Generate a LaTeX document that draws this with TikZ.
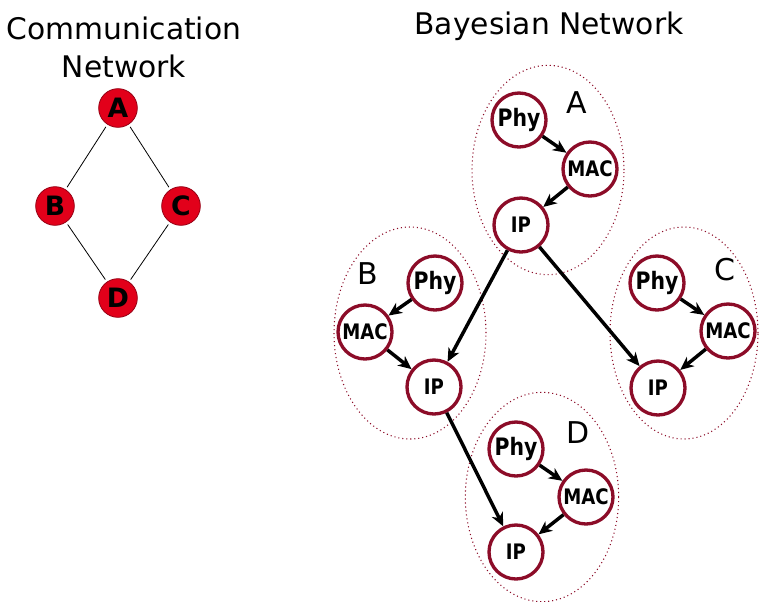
\documentclass[tikz,border=0pt]{standalone}
\usepackage{fontspec}
\setmainfont{DejaVu Sans}
\newfontfamily\bnfont[FakeStretch=0.85]{DejaVu Sans}
\usetikzlibrary{arrows.meta,shapes.geometric}
\definecolor{bnred}{RGB}{140,12,40}
\definecolor{cnred}{RGB}{226,0,26}
\definecolor{cnborder}{RGB}{150,0,20}
\tikzset{
  title/.style={font=\fontsize{22.3}{28.5}\selectfont, align=center},
  cnode/.style={circle, fill=cnred, draw=cnborder, line width=0.6pt, minimum size=29pt, inner sep=0pt, font=\bfseries\fontsize{20}{20}\selectfont},
  clink/.style={draw=black, line width=0.6pt, shorten >=2pt, shorten <=2pt},
  bnode/.style={circle, draw=bnred, line width=2.5pt, fill=white, minimum size=40.5pt, inner sep=0pt, font=\bnfont\bfseries\fontsize{16}{16}\selectfont},
  phy/.style={bnode, font=\bnfont\bfseries\fontsize{18}{18}\selectfont},
  grp/.style={ellipse, draw=bnred, line width=0.8pt, dash pattern=on 0.8pt off 2.2pt, inner sep=0pt},
  glabel/.style={font=\fontsize{22.5}{22.5}\selectfont},
  barrow/.style={draw=black, line width=2.6pt, -{Stealth[length=10pt,width=9pt,inset=3pt]}}
}
\begin{document}
\begin{tikzpicture}[x=0.75pt,y=-0.75pt]
\useasboundingbox (0,0) rectangle (759,601);
% titles
\node[title] (t1) at (124,47) {Communication\\Network};
\node[title] (t2) at (549,26) {Bayesian Network};
% communication network
\node[cnode] (cA) at (118,108) {A};
\node[cnode] (cB) at (55,206) {B};
\node[cnode] (cC) at (181,206) {C};
\node[cnode] (cD) at (118,298) {D};
\draw[clink] (cA) -- (cB);
\draw[clink] (cA) -- (cC);
\draw[clink] (cB) -- (cD);
\draw[clink] (cC) -- (cD);
% group ellipses
\node[grp, minimum width=114pt, minimum height=157pt] (eA) at (548,170) {};
\node[grp, minimum width=114pt, minimum height=159pt] (eB) at (410,333) {};
\node[grp, minimum width=111pt, minimum height=159pt] (eC) at (684,333) {};
\node[grp, minimum width=115pt, minimum height=157pt] (eD) at (542,497) {};
% group labels
\node[glabel] (lA) at (577,103) {A};
\node[glabel] (lB) at (368,274) {B};
\node[glabel] (lC) at (725,270) {C};
\node[glabel] (lD) at (578,433) {D};
% group A
\node[phy] (aPhy) at (519,120) {Phy};
\node[bnode] (aMAC) at (590,169) {MAC};
\node[bnode] (aIP) at (521,225) {IP};
% group B
\node[phy] (bPhy) at (435,283) {Phy};
\node[bnode] (bMAC) at (365,332) {MAC};
\node[bnode] (bIP) at (434,387) {IP};
% group C
\node[phy] (cPhy) at (657,283) {Phy};
\node[bnode] (cMAC) at (728,331) {MAC};
\node[bnode] (cIP) at (658,388) {IP};
% group D
\node[phy] (dPhy) at (516,449) {Phy};
\node[bnode] (dMAC) at (586,497) {MAC};
\node[bnode] (dIP) at (516,552) {IP};
% arrows inside groups
\draw[barrow] (aPhy) -- (aMAC);
\draw[barrow] (aMAC) -- (aIP);
\draw[barrow] (bPhy) -- (bMAC);
\draw[barrow] (bMAC) -- (bIP);
\draw[barrow] (cPhy) -- (cMAC);
\draw[barrow] (cMAC) -- (cIP);
\draw[barrow] (dPhy) -- (dMAC);
\draw[barrow] (dMAC) -- (dIP);
% arrows between groups
\draw[barrow] (aIP) -- (bIP);
\draw[barrow] (aIP) -- (cIP);
\draw[barrow] (bIP) -- (dIP);
\end{tikzpicture}
\end{document}
